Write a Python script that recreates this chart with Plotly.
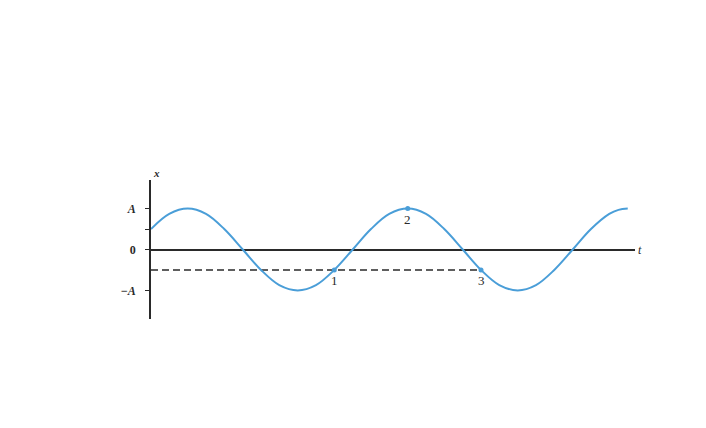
import plotly.graph_objects as go

# curve samples (t in periods, x in units of A)
t_curve = [0.0, 0.083, 0.167, 0.25, 0.333, 0.417, 0.5, 0.583, 0.667, 0.75,
           0.833, 0.917, 1.0, 1.083, 1.167, 1.25, 1.333, 1.417, 1.5, 1.583,
           1.667, 1.75, 1.833, 1.917, 2.0, 2.083, 2.125, 2.167]
x_curve = [0.5, 0.87, 1.0, 0.87, 0.5, 0.0, -0.5, -0.87, -1.0, -0.87,
           -0.5, 0.0, 0.5, 0.87, 1.0, 0.87, 0.5, 0.0, -0.5, -0.87,
           -1.0, -0.87, -0.5, 0.0, 0.5, 0.87, 0.97, 1.0]

# marked points
t_marks = [0.833, 1.167, 1.5]
x_marks = [-0.5, 1.0, -0.5]
mark_labels = ['1', '2', '3']

# dashed reference level
t_dash = [0.0, 1.5]
x_dash = [-0.5, -0.5]

tick_vals = [-1, 0, 0.5, 1]
tick_text = ['<b><i>\u2212A</i></b>', '<b>0</b>', '', '<b><i>A</i></b>']

blue = '#4a9ed8'
dark = '#2a2a2a'
serif = 'Liberation Serif'

fig = go.Figure()

fig.add_trace(go.Scatter(x=t_dash, y=x_dash, mode='lines',
                         line=dict(color=dark, width=1.5, dash='7px,4px'),
                         hoverinfo='skip'))

fig.add_trace(go.Scatter(x=t_curve, y=x_curve, mode='lines',
                         line=dict(color=blue, width=2, shape='spline', smoothing=1.0),
                         hoverinfo='skip'))

fig.add_trace(go.Scatter(x=t_marks, y=x_marks, mode='markers',
                         marker=dict(color=blue, size=5), hoverinfo='skip'))

annotations = []
for tm, xm, lab in zip(t_marks, x_marks, mark_labels):
    annotations.append(dict(x=tm, y=xm, text=lab, showarrow=False, yshift=-11,
                            font=dict(family=serif, size=13, color=dark)))

annotations.append(dict(x=0, y=1, xref='paper', yref='paper', text='<b><i>x</i></b>',
                        showarrow=False, yshift=15,
                        font=dict(family=serif, size=11, color=dark)))
annotations.append(dict(x=1, y=0, xref='paper', yref='y', text='<i>t</i>',
                        showarrow=False, xshift=9,
                        font=dict(family=serif, size=12, color=dark)))

fig.update_layout(
    width=706, height=428,
    margin=dict(l=143, r=79, t=172, b=117),
    paper_bgcolor='white', plot_bgcolor='white',
    showlegend=False,
    annotations=annotations,
    xaxis=dict(range=[0, 2.2], showgrid=False, zeroline=False, showline=False,
               showticklabels=False, ticks=''),
    yaxis=dict(range=[-1.7, 1.7], showgrid=False,
               zeroline=True, zerolinecolor=dark, zerolinewidth=1.5,
               showline=True, linecolor=dark, linewidth=1.5,
               ticks='outside', ticklen=4, tickcolor=dark, tickwidth=1.2,
               tickvals=tick_vals, ticktext=tick_text, ticklabelstandoff=7,
               tickfont=dict(family=serif, size=12, color=dark)),
)

fig.write_html("out.html")
